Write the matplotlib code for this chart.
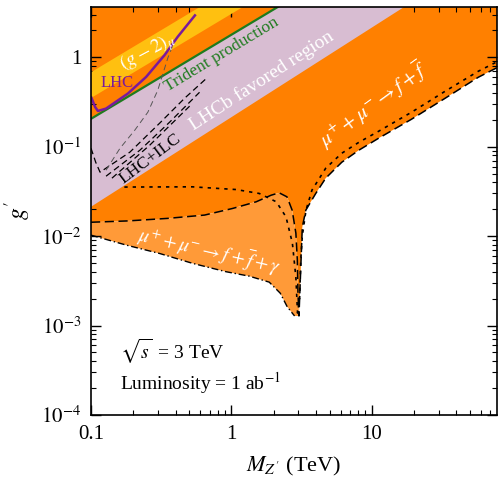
import matplotlib
matplotlib.use("Agg")
import matplotlib.pyplot as plt
import numpy as np

plt.rcParams['font.family'] = ['Liberation Serif', 'DejaVu Serif']
plt.rcParams['mathtext.fontset'] = 'stix'

# mu+ mu- -> f fbar : exclusion boundary (dashed) and dotted curve, M in TeV
m_ff = [0.100, 0.183, 0.352, 0.644, 1.02, 1.50, 1.92, 2.19, 2.49, 2.71, 2.88, 2.95, 2.98, 3.03,
        3.20, 3.39, 3.99, 4.70, 6.12, 8.09, 11.2, 19.2, 33.3, 57.4, 78.0]
g_ff = [0.0143, 0.0148, 0.0158, 0.0172, 0.0204, 0.0242, 0.0287, 0.0305, 0.0275, 0.0195, 0.0108,
        0.0054, 0.0023, 0.00128, 0.0126, 0.0195, 0.030, 0.0445, 0.0671, 0.0914, 0.1245, 0.203,
        0.348, 0.598, 0.765]

m_dot = [0.100, 0.528, 1.08, 1.58, 2.09, 2.45, 2.72, 2.88, 2.96, 3.06, 3.12, 3.20, 3.40, 3.75,
         4.70, 6.12, 8.09, 11.2, 19.2, 33.3, 57.4, 78.0]
g_dot = [0.0353, 0.0356, 0.0332, 0.030, 0.0242, 0.0164, 0.00835, 0.00348, 0.00138, 0.00193,
         0.0054, 0.010, 0.0195, 0.0327, 0.0575, 0.0846, 0.112, 0.149, 0.243, 0.417, 0.698, 0.89]

# mu+ mu- -> f fbar gamma : lower boundary (dash-dot)
m_ffg = [0.100, 0.179, 0.308, 0.532, 0.917, 1.34, 1.86, 2.23, 2.50, 2.82]
g_ffg = [0.01026, 0.00793, 0.0064, 0.00495, 0.0040, 0.00357, 0.00306, 0.0023, 0.00162, 0.00128]

# straight bands (end points)
m_lhcb_lo, g_lhcb_lo = [0.1, 30.0], [0.0213, 6.45]
m_trident, g_trident = [0.1, 3.0], [0.205, 5.02]
m_gm2_lo, g_gm2_lo = [0.1, 3.0], [0.35, 8.6]
m_gm2_hi, g_gm2_hi = [0.1, 3.0], [0.68, 16.7]

# LHC bound (purple)
m_lhc = [0.1005, 0.107, 0.112, 0.128, 0.183, 0.247, 0.333, 0.414, 0.550]
g_lhc = [0.355, 0.278, 0.251, 0.267, 0.393, 0.603, 1.05, 1.69, 2.94]

# LHC+ILC dashed curves
m_ilc_a = [0.1, 0.108, 0.116, 0.189, 0.308, 0.464, 0.665]
g_ilc_a = [0.0962, 0.0671, 0.0519, 0.0868, 0.183, 0.348, 0.582]
m_ilc_b = [0.128, 0.223, 0.363, 0.593]
g_ilc_b = [0.0468, 0.0914, 0.188, 0.406]
m_ilc_c = [0.141, 0.262, 0.504]
g_ilc_c = [0.0445, 0.104, 0.284]
m_ilc_d = [0.128, 0.161, 0.205, 0.254, 0.299, 0.352, 0.382]
g_ilc_d = [0.0546, 0.0962, 0.153, 0.243, 0.428, 0.975, 1.36]

xmin, xmax = 0.1, 78.0
ymin, ymax = 1e-4, 3.65

dark_orange = '#FF8000'
light_orange = '#FF9A38'
lilac = '#D8BDD2'
gold = '#FFC010'

fig = plt.figure(figsize=(4.98, 4.8), dpi=100)
ax = fig.add_axes([91 / 498, 65 / 480, 406 / 498, 408 / 480])
ax.set_xscale('log')
ax.set_yscale('log')

# dark orange region (above dashed boundary)
ax.fill(m_ff + [xmax, xmin], g_ff + [ymax * 2, ymax * 2], color=dark_orange, lw=0, zorder=1)
# light orange region (f fbar gamma)
ax.fill(m_ffg + m_ff[13::-1], g_ffg + g_ff[13::-1], color=light_orange, lw=0, zorder=1)

# g-2 band
ax.fill(m_gm2_lo + m_gm2_hi[::-1], g_gm2_lo + g_gm2_hi[::-1], color=gold, lw=0, zorder=2)
# LHCb favored band
ax.fill(m_lhcb_lo + m_trident[::-1], g_lhcb_lo + g_trident[::-1], color=lilac, lw=0, zorder=2)
ax.plot(m_trident, g_trident, color='#1E7B1E', lw=1.6, zorder=4)

# boundaries
ax.plot(m_ff, g_ff, color='black', ls=(0, (6, 3)), lw=1.1, zorder=3)
ax.plot(m_dot, g_dot, color='black', ls=(0, (2, 3)), lw=1.2, zorder=1.5)
ax.plot(m_ffg, g_ffg, color='black', ls=(0, (5, 2, 1, 2)), lw=1.0, zorder=3)

# LHC and LHC+ILC
ax.plot(m_lhc, g_lhc, color='#7A1A9C', lw=1.8, zorder=5)
for m, g in [(m_ilc_a, g_ilc_a), (m_ilc_b, g_ilc_b), (m_ilc_c, g_ilc_c)]:
    ax.plot(m, g, color='black', ls=(0, (5, 3)), lw=0.9, zorder=4)
ax.plot(m_ilc_d, g_ilc_d, color='#555555', ls=(0, (6, 4)), lw=0.7, zorder=4)

# texts
ax.text(0.255, 1.15, r'$(g-2)_\mu$', color='white', fontsize=14, rotation=28,
        ha='center', va='center', zorder=6)
ax.text(0.153, 0.52, 'LHC', color='#7A1A9C', fontsize=12, ha='center', va='center', zorder=6)
ax.text(0.85, 1.08, 'Trident production', color='#1E7B1E', fontsize=12.5, rotation=31,
        ha='center', va='center', zorder=6)
ax.text(1.63, 0.55, 'LHCb favored region', color='white', fontsize=14, rotation=33,
        ha='center', va='center', zorder=6)
ax.text(0.265, 0.074, 'LHC+ILC', color='black', fontsize=12.5, rotation=37,
        ha='center', va='center', zorder=6)
ax.text(10.3, 0.30, r'$\mu^{+}+\mu^{-}\rightarrow f+\overline{f}$', color='white', fontsize=15,
        rotation=36, ha='center', va='center', zorder=6)
ax.text(0.70, 0.0068, r'$\mu^{+}+\mu^{-}\rightarrow f+\overline{f}+\gamma$', color='white',
        fontsize=14, rotation=-13, ha='center', va='center', zorder=6)
ax.text(0.071, 0.155, r'$\sqrt{s}\,$ = 3 TeV', transform=ax.transAxes, fontsize=14,
        ha='left', va='center', zorder=6)
ax.text(0.071, 0.078, r'Luminosity = 1 ab$^{-1}$', transform=ax.transAxes, fontsize=14,
        ha='left', va='center', zorder=6)

ax.set_xlim(xmin, xmax)
ax.set_ylim(ymin, ymax)
ax.set_xticks([0.1, 1, 10])
ax.set_xticklabels(['0.1', '1', '10'])
ax.set_yticks([1e-4, 1e-3, 1e-2, 1e-1, 1])
ax.set_yticklabels([r'$10^{-4}$', r'$10^{-3}$', r'$10^{-2}$', r'$10^{-1}$', '1'])
ax.tick_params(which='both', direction='in', top=True, right=True, labelsize=15)
ax.tick_params(which='major', length=7, width=1.0, pad=7)
ax.tick_params(which='minor', length=3.5, width=0.8)
for s in ax.spines.values():
    s.set_linewidth(1.2)
    s.set_zorder(10)

ax.set_xlabel(r"$M_{Z'}$ (TeV)", fontsize=16, labelpad=8)
ax.set_ylabel(r"$g'$", fontsize=17, labelpad=6)

fig.savefig('out.png', dpi=100)
